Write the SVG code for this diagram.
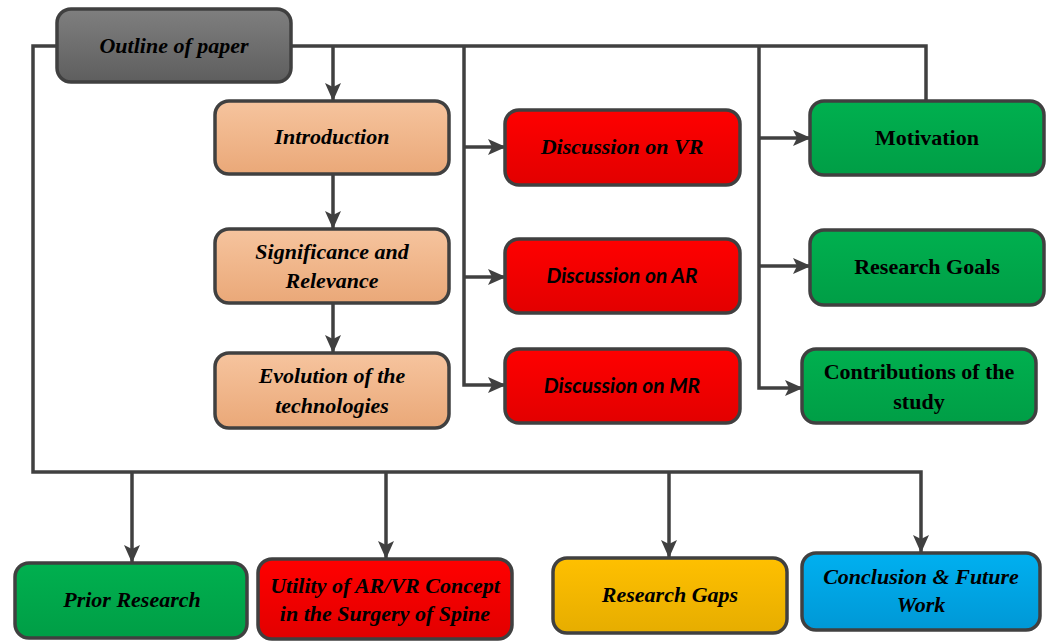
<svg xmlns="http://www.w3.org/2000/svg" width="1050" height="641" viewBox="0 0 1050 641">
<defs>
<linearGradient id="gGray" x1="0" y1="0" x2="0" y2="1"><stop offset="0" stop-color="#7f7f7f"/><stop offset="1" stop-color="#5e5e5e"/></linearGradient>
<linearGradient id="gOrange" x1="0" y1="0" x2="0" y2="1"><stop offset="0" stop-color="#f6c49e"/><stop offset="1" stop-color="#eaa878"/></linearGradient>
<linearGradient id="gRed" x1="0" y1="0" x2="0" y2="1"><stop offset="0" stop-color="#ff0000"/><stop offset="1" stop-color="#e20000"/></linearGradient>
<linearGradient id="gGreen" x1="0" y1="0" x2="0" y2="1"><stop offset="0" stop-color="#00b04f"/><stop offset="1" stop-color="#009e46"/></linearGradient>
<linearGradient id="gYellow" x1="0" y1="0" x2="0" y2="1"><stop offset="0" stop-color="#ffc000"/><stop offset="1" stop-color="#e6ad00"/></linearGradient>
<linearGradient id="gBlue" x1="0" y1="0" x2="0" y2="1"><stop offset="0" stop-color="#00b0f0"/><stop offset="1" stop-color="#0098d6"/></linearGradient>
<marker id="arr" markerUnits="userSpaceOnUse" markerWidth="18" markerHeight="16" viewBox="0 0 18 16" refX="17" refY="8" orient="auto">
<path d="M0,0 L18,8 L0,16 L4,8 Z" fill="#404040"/>
</marker>
</defs>
<style>
.box{stroke:#404040;stroke-width:3.5}
.t{font-family:"Liberation Serif","Times New Roman",serif;font-weight:bold;font-style:italic;font-size:22px;fill:#000;text-anchor:middle}
.tn{font-family:"Liberation Serif","Times New Roman",serif;font-weight:bold;font-size:22px;fill:#000;text-anchor:middle}
.ts{font-family:Lato,"Liberation Sans",sans-serif;font-weight:bold;font-style:italic;font-size:21px;fill:#000;text-anchor:middle}
.c{fill:none;stroke:#404040;stroke-width:3.5}
.ca{fill:none;stroke:#404040;stroke-width:3.5;marker-end:url(#arr)}
</style>
<g id="connectors">
<path class="ca" d="M57,46 H33 V472 H921 V552"/>
<path class="ca" d="M132,472 V562"/>
<path class="ca" d="M386,472 V558"/>
<path class="ca" d="M669,472 V557"/>
<path class="c" d="M291,46 H926 V100"/>
<path class="ca" d="M333,46 V100"/>
<path class="ca" d="M333,175 V228"/>
<path class="ca" d="M333,303 V352"/>
<path class="ca" d="M464,46 V385 H505"/>
<path class="ca" d="M464,147 H505"/>
<path class="ca" d="M464,277 H505"/>
<path class="ca" d="M759,46 V388 H802"/>
<path class="ca" d="M759,138 H810"/>
<path class="ca" d="M759,266 H810"/>
</g>
<g id="outline"><rect class="box" x="57" y="9" width="234" height="73" rx="14" fill="url(#gGray)"/><text class="t" x="174" y="53">Outline of paper</text></g>
<g id="introduction"><rect class="box" x="215" y="101" width="234" height="73" rx="14" fill="url(#gOrange)"/><text class="t" x="332" y="144">Introduction</text></g>
<g id="significance"><rect class="box" x="215" y="229" width="234" height="74" rx="14" fill="url(#gOrange)"/><text class="t" x="332" y="259">Significance and</text><text class="t" x="332" y="288">Relevance</text></g>
<g id="evolution"><rect class="box" x="215" y="353" width="234" height="75" rx="14" fill="url(#gOrange)"/><text class="t" x="332" y="383">Evolution of the</text><text class="t" x="332" y="413">technologies</text></g>
<g id="disc-vr"><rect class="box" x="505" y="110" width="235" height="75" rx="14" fill="url(#gRed)"/><text class="t" x="622" y="154">Discussion on VR</text></g>
<g id="disc-ar"><rect class="box" x="505" y="239" width="235" height="74" rx="14" fill="url(#gRed)"/><text class="ts" x="622" y="283">Discussion on AR</text></g>
<g id="disc-mr"><rect class="box" x="505" y="349" width="235" height="74" rx="14" fill="url(#gRed)"/><text class="ts" x="622" y="393">Discussion on MR</text></g>
<g id="motivation"><rect class="box" x="810" y="101" width="234" height="74" rx="14" fill="url(#gGreen)"/><text class="tn" x="927" y="145">Motivation</text></g>
<g id="goals"><rect class="box" x="810" y="230" width="234" height="75" rx="14" fill="url(#gGreen)"/><text class="tn" x="927" y="274">Research Goals</text></g>
<g id="contributions"><rect class="box" x="802" y="349" width="234" height="74" rx="14" fill="url(#gGreen)"/><text class="tn" x="919" y="379">Contributions of the</text><text class="tn" x="919" y="409">study</text></g>
<g id="prior"><rect class="box" x="15" y="563" width="232" height="75" rx="14" fill="url(#gGreen)"/><text class="t" x="132" y="607">Prior Research</text></g>
<g id="utility"><rect class="box" x="258" y="559" width="254" height="80" rx="14" fill="url(#gRed)"/><text class="t" x="385" y="593">Utility of AR/VR Concept</text><text class="t" x="385" y="621">in the Surgery of Spine</text></g>
<g id="gaps"><rect class="box" x="553" y="558" width="234" height="75" rx="14" fill="url(#gYellow)"/><text class="t" x="670" y="602">Research Gaps</text></g>
<g id="conclusion"><rect class="box" x="802" y="553" width="238" height="77" rx="14" fill="url(#gBlue)"/><text class="t" x="921" y="584">Conclusion &amp; Future</text><text class="t" x="921" y="612">Work</text></g>
</svg>
